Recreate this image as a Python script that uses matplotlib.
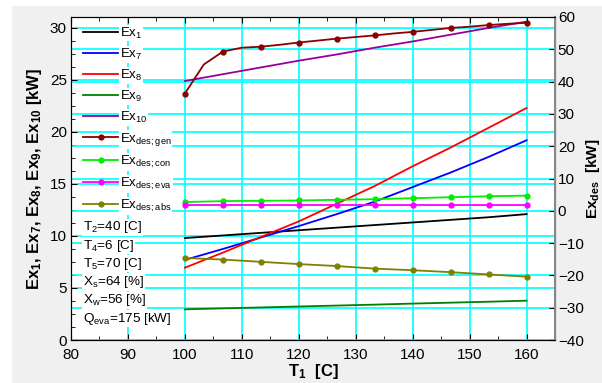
import matplotlib
matplotlib.use("Agg")
import matplotlib.pyplot as plt
import matplotlib.transforms as mtransforms
from matplotlib.patches import Rectangle
from matplotlib.ticker import MultipleLocator

plt.rcParams['font.family'] = ['Liberation Sans', 'DejaVu Sans']
plt.rcParams['mathtext.default'] = 'regular'

# ---- data ----
T1 = [100, 106.67, 113.33, 120, 126.67, 133.33, 140, 146.67, 153.33, 160]
Ex1 = [9.8, 10.05, 10.3, 10.55, 10.8, 11.05, 11.3, 11.55, 11.8, 12.1]
Ex7 = [7.7, 8.75, 9.85, 10.95, 12.1, 13.3, 14.7, 16.1, 17.6, 19.2]
Ex8 = [6.95, 8.4, 9.9, 11.4, 13.1, 14.8, 16.7, 18.5, 20.4, 22.3]
Ex9 = [2.95, 3.04, 3.13, 3.22, 3.31, 3.4, 3.5, 3.59, 3.68, 3.78]
Ex10 = [24.9, 25.55, 26.2, 26.85, 27.45, 28.1, 28.7, 29.35, 30.0, 30.6]

T1_gen = [100, 103.33, 106.67, 110, 113.33, 116.67, 120, 123.33, 126.67, 130,
          133.33, 136.67, 140, 143.33, 146.67, 150, 153.33, 156.67, 160]
Ex_des_gen = [36.3, 45.3, 49.3, 50.5, 50.8, 51.4, 52.1, 52.7, 53.3, 53.8,
              54.3, 54.9, 55.4, 56.0, 56.6, 57.0, 57.5, 57.9, 58.2]
Ex_des_con = [2.7, 3.0, 3.1, 3.2, 3.4, 3.6, 3.9, 4.2, 4.5, 4.7]
Ex_des_eva = [1.8, 1.8, 1.8, 1.8, 1.8, 1.8, 1.8, 1.8, 1.8, 1.8]
Ex_des_abs = [-14.6, -15.1, -15.8, -16.5, -17.1, -17.9, -18.4, -19.0, -19.7, -20.4]

left_labels = ['Ex$_{1}$', 'Ex$_{7}$', 'Ex$_{8}$', 'Ex$_{9}$', 'Ex$_{10}$']
right_labels = ['Ex$_{des;gen}$', 'Ex$_{des;con}$', 'Ex$_{des;eva}$', 'Ex$_{des;abs}$']
info_lines = ['T$_{2}$=40 [C]', 'T$_{4}$=6 [C]', 'T$_{5}$=70 [C]',
              'X$_{s}$=64 [%]', 'X$_{w}$=56 [%]', 'Q$_{eva}$=175 [kW]']

left_colors = ['#000000', '#0000ff', '#ff0000', '#008000', '#990099']
right_colors = ['#8b0000', '#00ee00', '#ff00ff', '#808000']

# ---- figure ----
fig = plt.figure(figsize=(6.02, 3.83), dpi=100, facecolor='white')
fig.patches.append(Rectangle((12 / 602, 0), 1, 1 - 6 / 383, transform=fig.transFigure,
                             facecolor='#f0f0f0', edgecolor='none', zorder=-10))

ax1 = fig.add_axes([71 / 602, 43 / 383, 484 / 602, 323 / 383])
ax1.set_facecolor('white')
ax2 = ax1.twinx()

ax1.set_xlim(80, 165)
ax1.set_ylim(0, 31.05)
ax2.set_ylim(-40, 60)

ax1.xaxis.set_major_locator(MultipleLocator(10))
ax1.xaxis.set_minor_locator(MultipleLocator(5))
ax1.yaxis.set_major_locator(MultipleLocator(5))
ax1.yaxis.set_minor_locator(MultipleLocator(1.25))
ax2.yaxis.set_major_locator(MultipleLocator(10))

ax1.set_axisbelow(True)
ax1.grid(True, which='major', color='#00ffff', lw=1.2)
# right-axis gridlines drawn behind data in ax1
blend = mtransforms.blended_transform_factory(ax1.transAxes, ax2.transData)
for v in range(-30, 60, 10):
    ax1.plot([0, 1], [v, v], transform=blend, color='#00ffff', lw=1.2, zorder=0.6)

ax1.tick_params(axis='both', which='both', direction='in', top=True, labelsize=11)
ax1.tick_params(which='major', length=4)
ax1.tick_params(which='minor', length=3)
ax1.tick_params(axis='x', pad=6)
ax1.tick_params(axis='y', pad=3)
ax2.tick_params(axis='y', direction='in', labelsize=11, length=4, pad=2)

for sp in ax1.spines.values():
    sp.set_color('#222222')
ax2.spines['right'].set_color('#888888')
ax2.spines['right'].set_linewidth(1.5)

handles = []
for ys, c, lab in zip([Ex1, Ex7, Ex8, Ex9, Ex10], left_colors, left_labels):
    h, = ax1.plot(T1, ys, color=c, lw=1.3, label=lab)
    handles.append(h)

h, = ax2.plot(T1_gen, Ex_des_gen, color=right_colors[0], lw=1.3, marker='o',
              markersize=3.5, markevery=2, label=right_labels[0])
handles.append(h)
for ys, c, lab in zip([Ex_des_con, Ex_des_eva, Ex_des_abs], right_colors[1:], right_labels[1:]):
    h, = ax2.plot(T1, ys, color=c, lw=1.3, marker='o', markersize=3.5, label=lab)
    handles.append(h)

leg = ax2.legend(handles=handles, loc='upper left', bbox_to_anchor=(0.025, 0.973),
                 frameon=False, fontsize=9.5, handlelength=2.65, handletextpad=0.15,
                 labelspacing=0.45, borderpad=0, borderaxespad=0)
for t in leg.get_texts():
    t.set_bbox(dict(facecolor='white', edgecolor='none', pad=0.5))

y0 = 0.349
for i, s in enumerate(info_lines):
    ax2.text(0.025, y0 - i * 0.0565, s, transform=ax2.transAxes, fontsize=9.7,
             va='center', ha='left',
             bbox=dict(facecolor='white', edgecolor='none', pad=0.5))

ax1.set_xlabel('T$_{1}$  [C]', fontsize=12, fontweight='bold', labelpad=0)
ax1.set_ylabel('Ex$_{1}$, Ex$_{7}$, Ex$_{8}$, Ex$_{9}$, Ex$_{10}$ [kW]', fontsize=12,
               fontweight='bold', labelpad=4)
ax2.set_ylabel('Ex$_{des}$  [kW]', fontsize=11, fontweight='bold', labelpad=0)

fig.savefig('out.png', dpi=100, facecolor=fig.get_facecolor())
